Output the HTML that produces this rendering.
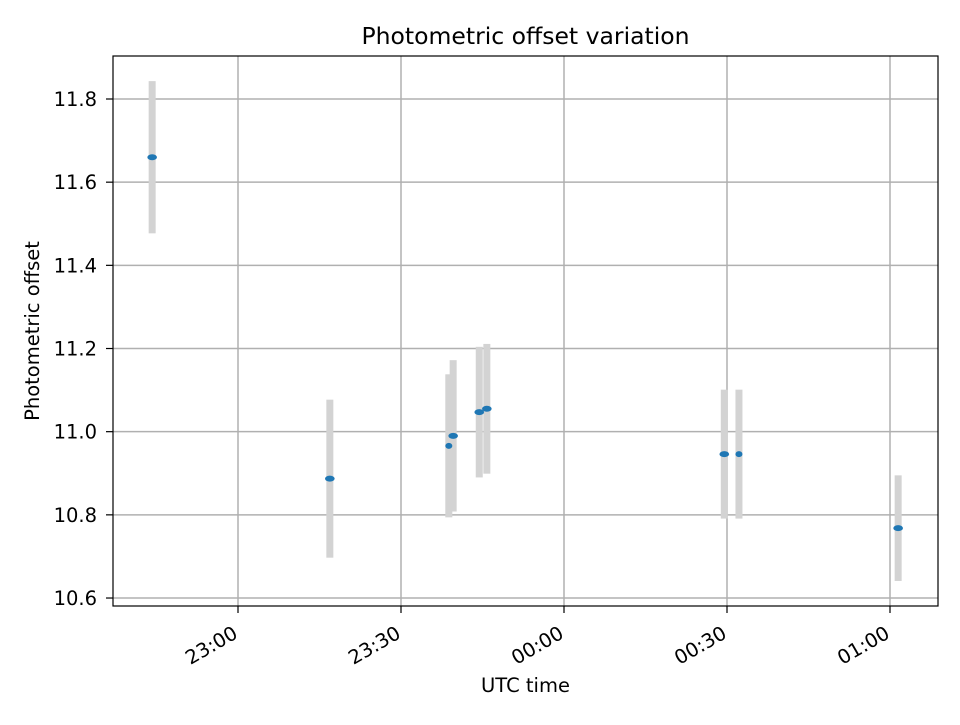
<!DOCTYPE html>
<html><head><meta charset="utf-8"><style>
body{margin:0;background:#fff}
svg text{font-family:"DejaVu Sans","Liberation Sans",sans-serif;fill:#000}
</style></head><body>
<svg id="chart" width="960" height="720" xmlns="http://www.w3.org/2000/svg">
<rect width="960" height="720" fill="#fff"/>
<g id="grid"></g><g id="marks"></g><g id="axes"></g>
</svg>
<script>
const times = [-15.8, 16.9, 38.8, 39.6, 44.4, 45.8, 89.5, 92.2, 121.5]; // minutes after 23:00
const offsets = [11.66, 10.887, 10.966, 10.99, 11.047, 11.055, 10.946, 10.946, 10.768];
const errors = [0.183, 0.19, 0.172, 0.182, 0.157, 0.156, 0.155, 0.155, 0.127];
const yTicks = [10.6, 10.8, 11.0, 11.2, 11.4, 11.6, 11.8];
const xTickMinutes = [0, 30, 60, 90, 120];
const xTickLabels = ["23:00", "23:30", "00:00", "00:30", "01:00"];

const L=113,R=938,T=56,B=606;
const xs = t => 238 + t*163/30;
const ys = v => 99 + (11.8 - v)/0.2*83.17;
const NS="http://www.w3.org/2000/svg";
function mk(tag, parent, attrs){const e=document.createElementNS(NS,tag);for(const k in attrs)e.setAttribute(k,attrs[k]);document.getElementById(parent).appendChild(e);return e;}

yTicks.forEach(v=>{
  const l=mk('line','grid',{x1:L,x2:R,y1:ys(v),y2:ys(v),stroke:'#b0b0b0','stroke-width':1.5});
  
  
  const tk=mk('line','axes',{x1:L-7,x2:L,y1:ys(v),y2:ys(v),stroke:'#000','stroke-width':1.2});
  
  
  const tx=mk('text','axes',{x:L-16,y:ys(v)+7,'text-anchor':'end','font-size':19.5});
  tx.textContent=v.toFixed(1);
  
  
});
xTickMinutes.forEach((m,i)=>{
  const x=xs(m);
  const l=mk('line','grid',{x1:x,x2:x,y1:T,y2:B,stroke:'#b0b0b0','stroke-width':1.5});
  
  
  const tk=mk('line','axes',{x1:x,x2:x,y1:B,y2:B+7,stroke:'#000','stroke-width':1.2});
  
  
  const ax=x+1, ay=B+31;
  const tx=mk('text','axes',{x:ax,y:ay,'text-anchor':'end','font-size':19.5,transform:`rotate(-30 ${ax} ${ay})`});
  tx.textContent=xTickLabels[i];
  
  
});
times.forEach((t,i)=>{
  const x=xs(t), y0=ys(offsets[i]+errors[i]), y1=ys(offsets[i]-errors[i]);
  const eb=mk('rect','marks',{x:x-3.5,y:y0,width:7,height:y1-y0,fill:'#d3d3d3'});
  
  
});
times.forEach((t,i)=>{
  const p=mk('ellipse','marks',{cx:xs(t),cy:ys(offsets[i]),rx:(i==2||i==7)?3.5:4.8,ry:3,fill:'#1f77b4'});
  
  
});
const fr=mk('rect','axes',{x:L,y:T,width:R-L,height:B-T,fill:'none',stroke:'#000','stroke-width':1.2});


const ti=mk('text','axes',{x:(L+R)/2,y:44,'text-anchor':'middle','font-size':23.5});
ti.textContent='Photometric offset variation';


const xl=mk('text','axes',{x:(L+R)/2,y:692,'text-anchor':'middle','font-size':19.5});
xl.textContent='UTC time';


const yl=mk('text','axes',{x:39,y:331,'text-anchor':'middle','font-size':19.5,transform:'rotate(-90 39 331)'});
yl.textContent='Photometric offset';


</script>
</body></html>
